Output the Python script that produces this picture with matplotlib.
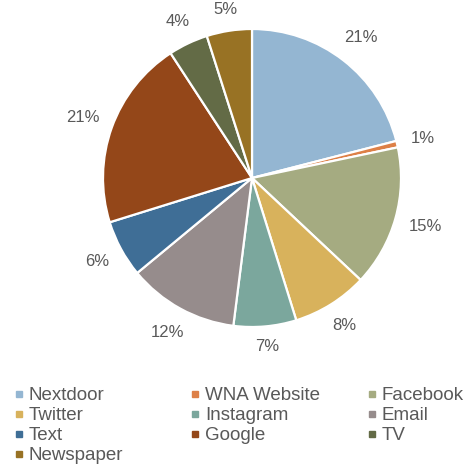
import matplotlib
matplotlib.use("Agg")
import numpy as np
import matplotlib.pyplot as plt
from matplotlib.lines import Line2D

plt.rcParams['font.family'] = ['Liberation Sans', 'DejaVu Sans']

# share of responses by information channel (%)
channels = ['Nextdoor', 'WNA Website', 'Facebook', 'Twitter', 'Instagram',
            'Email', 'Text', 'Google', 'TV', 'Newspaper']
shares = [21.0, 0.7, 15.3, 8.2, 6.8, 12.0, 6.2, 20.6, 4.3, 4.9]
colors = ['#94B6D2', '#DD8047', '#A5AB81', '#D8B25C', '#7BA79D',
          '#968C8C', '#3F6E96', '#944719', '#636B46', '#987224']

TXT = '#595959'
W, H = 472, 468

fig = plt.figure(figsize=(W / 100, H / 100), dpi=100)
R = 149  # pie radius in px
cx, cy = 252, 178
w = 2.5 * R
ax = fig.add_axes([(cx - w / 2) / W, (H - cy - w / 2) / H, w / W, w / H])

wedges, texts, autotexts = ax.pie(
    shares, colors=colors, startangle=90, counterclock=False,
    autopct='%.0f%%', pctdistance=1.15,
    wedgeprops=dict(edgecolor='white', linewidth=1.6),
    textprops=dict(color=TXT, fontsize=12))
ax.set_xlim(-1.25, 1.25)
ax.set_ylim(-1.25, 1.25)
ax.set_aspect('equal')

# put each label just outside the rim, like "outside end" labels
fig.canvas.draw()
renderer = fig.canvas.get_renderer()
gap = 13  # px between rim and nearest label edge
for wdg, t in zip(wedges, autotexts):
    ang = np.deg2rad((wdg.theta1 + wdg.theta2) / 2)
    ext = t.get_window_extent(renderer)
    hw, hh = ext.width / 2, ext.height / 2 - 1
    d = R + gap + abs(np.cos(ang)) * hw + abs(np.sin(ang)) * hh
    t.set_position((d * np.cos(ang) / R, d * np.sin(ang) / R))
    t.set_ha('center')
    t.set_va('center')

# legend: three columns filled row by row
col_x = [14.8, 191.3, 367.8]
for c in range(3):
    idx = list(range(c, len(channels), 3))
    handles = [Line2D([], [], marker='s', linestyle='', markersize=4,
                      markerfacecolor=colors[i], markeredgecolor=colors[i])
               for i in idx]
    fig.legend(handles, [channels[i] for i in idx], loc='upper left',
               bbox_to_anchor=(col_x[c] / W, 1 - 387 / H),
               frameon=False, fontsize=13.5, labelcolor=TXT,
               handlelength=0.4, handletextpad=0.33, labelspacing=0.16,
               borderpad=0, borderaxespad=0)

fig.savefig('out.png', dpi=100, facecolor='white')
